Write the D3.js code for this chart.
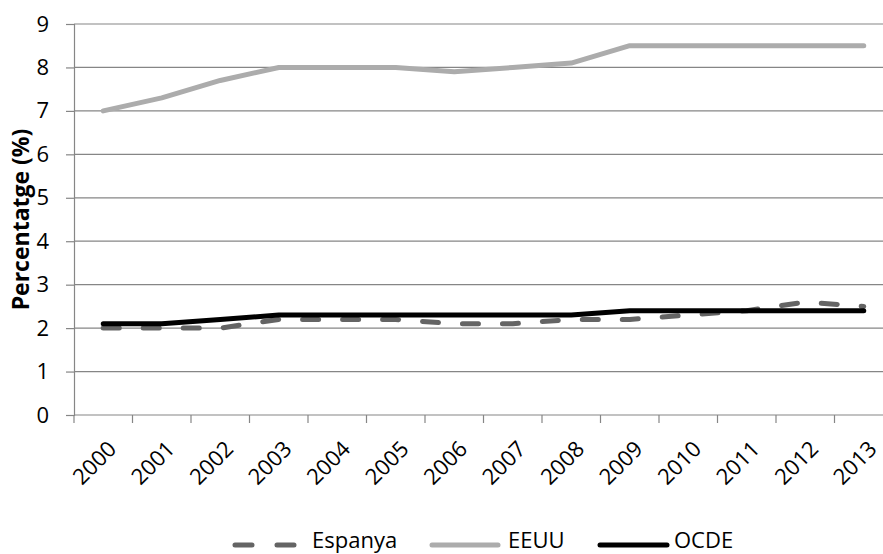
<!DOCTYPE html>
<html>
<head>
<meta charset="utf-8">
<script src="https://cdn.jsdelivr.net/npm/d3@7"></script>
<style>
  body { margin: 0; background: #fff; }
  svg { display: block; font-family: "Open Sans", "Noto Sans", sans-serif; }
</style>
</head>
<body>
<svg id="chart" width="883" height="554"></svg>
<script>
// Years on the category axis
const years = ["2000","2001","2002","2003","2004","2005","2006","2007","2008","2009","2010","2011","2012","2013"];
// Series values (%)
const espanya = [2.0, 2.0, 2.0, 2.2, 2.2, 2.2, 2.1, 2.1, 2.2, 2.2, 2.3, 2.4, 2.6, 2.5];
const eeuu    = [7.0, 7.3, 7.7, 8.0, 8.0, 8.0, 7.9, 8.0, 8.1, 8.5, 8.5, 8.5, 8.5, 8.5];
const ocde    = [2.1, 2.1, 2.2, 2.3, 2.3, 2.3, 2.3, 2.3, 2.3, 2.4, 2.4, 2.4, 2.4, 2.4];
// Value-axis ticks
const yTicks = [0, 1, 2, 3, 4, 5, 6, 7, 8, 9];

(function () {
  const series = [
    { name: "Espanya", values: espanya, color: "#646464", dash: "16,24" },
    { name: "EEUU",    values: eeuu,    color: "#acacac", dash: null },
    { name: "OCDE",    values: ocde,    color: "#000000", dash: null }
  ];

  const svg = d3.select("#chart");
  const m = { left: 74, right: 893, top: 24, bottom: 415 };

  const x = d3.scaleBand().domain(years).range([m.left, m.right]).paddingInner(0).paddingOuter(0);
  const y = d3.scaleLinear().domain([0, 9]).range([m.bottom, m.top]);

  // Horizontal gridlines
  svg.append("g").selectAll("line").data(yTicks.filter(d => d > 0)).join("line")
    .attr("x1", m.left).attr("x2", m.right)
    .attr("y1", d => y(d)).attr("y2", d => y(d))
    .attr("stroke", "#868686").attr("stroke-width", 1.2);

  // Value axis
  const yAxis = svg.append("g").attr("transform", `translate(${m.left},0)`)
    .call(d3.axisLeft(y).tickValues(yTicks).tickSize(8).tickPadding(17).tickFormat(d3.format("d")));
  yAxis.select(".domain").attr("stroke", "#868686").attr("stroke-width", 1.2);
  yAxis.selectAll(".tick line").attr("stroke", "#868686").attr("stroke-width", 1.2);
  yAxis.selectAll(".tick text").attr("font-size", 22).attr("fill", "#000")
    .attr("font-family", "'Open Sans', sans-serif");

  // Category axis with ticks at category boundaries
  const boundaries = years.map(d => x(d)).concat([m.right]);
  const xg = svg.append("g");
  xg.append("line").attr("x1", m.left).attr("x2", m.right).attr("y1", m.bottom).attr("y2", m.bottom)
    .attr("stroke", "#868686").attr("stroke-width", 1.2);
  xg.selectAll("line.tk").data(boundaries).join("line").attr("class", "tk")
    .attr("x1", d => d).attr("x2", d => d).attr("y1", m.bottom).attr("y2", m.bottom + 8)
    .attr("stroke", "#868686").attr("stroke-width", 1.2);
  xg.selectAll("text").data(years).join("text")
    .attr("transform", d => `translate(${x(d) + x.bandwidth() / 2 + 9},${m.bottom + 30}) rotate(-45)`)
    .attr("text-anchor", "end")
    .attr("dy", "0.35em")
    .attr("font-size", 22)
    .text(d => d);

  // Axis title
  svg.append("text")
    .attr("transform", `translate(29,${(m.top + m.bottom) / 2}) rotate(-90)`)
    .attr("text-anchor", "middle")
    .attr("font-size", 23).attr("font-weight", "bold")
    .text("Percentatge (%)");

  // Series lines
  const line = d3.line()
    .x((d, i) => x(years[i]) + x.bandwidth() / 2)
    .y(d => y(d));

  svg.append("g").selectAll("path").data(series).join("path")
    .attr("d", s => line(s.values))
    .attr("fill", "none")
    .attr("stroke", s => s.color)
    .attr("stroke-width", 5)
    .attr("stroke-linecap", "round")
    .attr("stroke-linejoin", "round")
    .attr("stroke-dasharray", s => s.dash);

  // Legend
  const legendItems = [
    { s: series[0], x1: 235, x2: 297, tx: 312 },
    { s: series[1], x1: 432, x2: 498, tx: 508 },
    { s: series[2], x1: 600, x2: 667, tx: 674 }
  ];
  const lg = svg.append("g");
  const ly = 545;
  legendItems.forEach(it => {
    lg.append("line").attr("x1", it.x1).attr("x2", it.x2).attr("y1", ly).attr("y2", ly)
      .attr("stroke", it.s.color).attr("stroke-width", 5).attr("stroke-linecap", "round")
      .attr("stroke-dasharray", it.s.dash ? "17,25" : null);
    lg.append("text").attr("x", it.tx).attr("y", 548)
      .attr("font-size", 22).text(it.s.name);
  });
})();
</script>
</body>
</html>
